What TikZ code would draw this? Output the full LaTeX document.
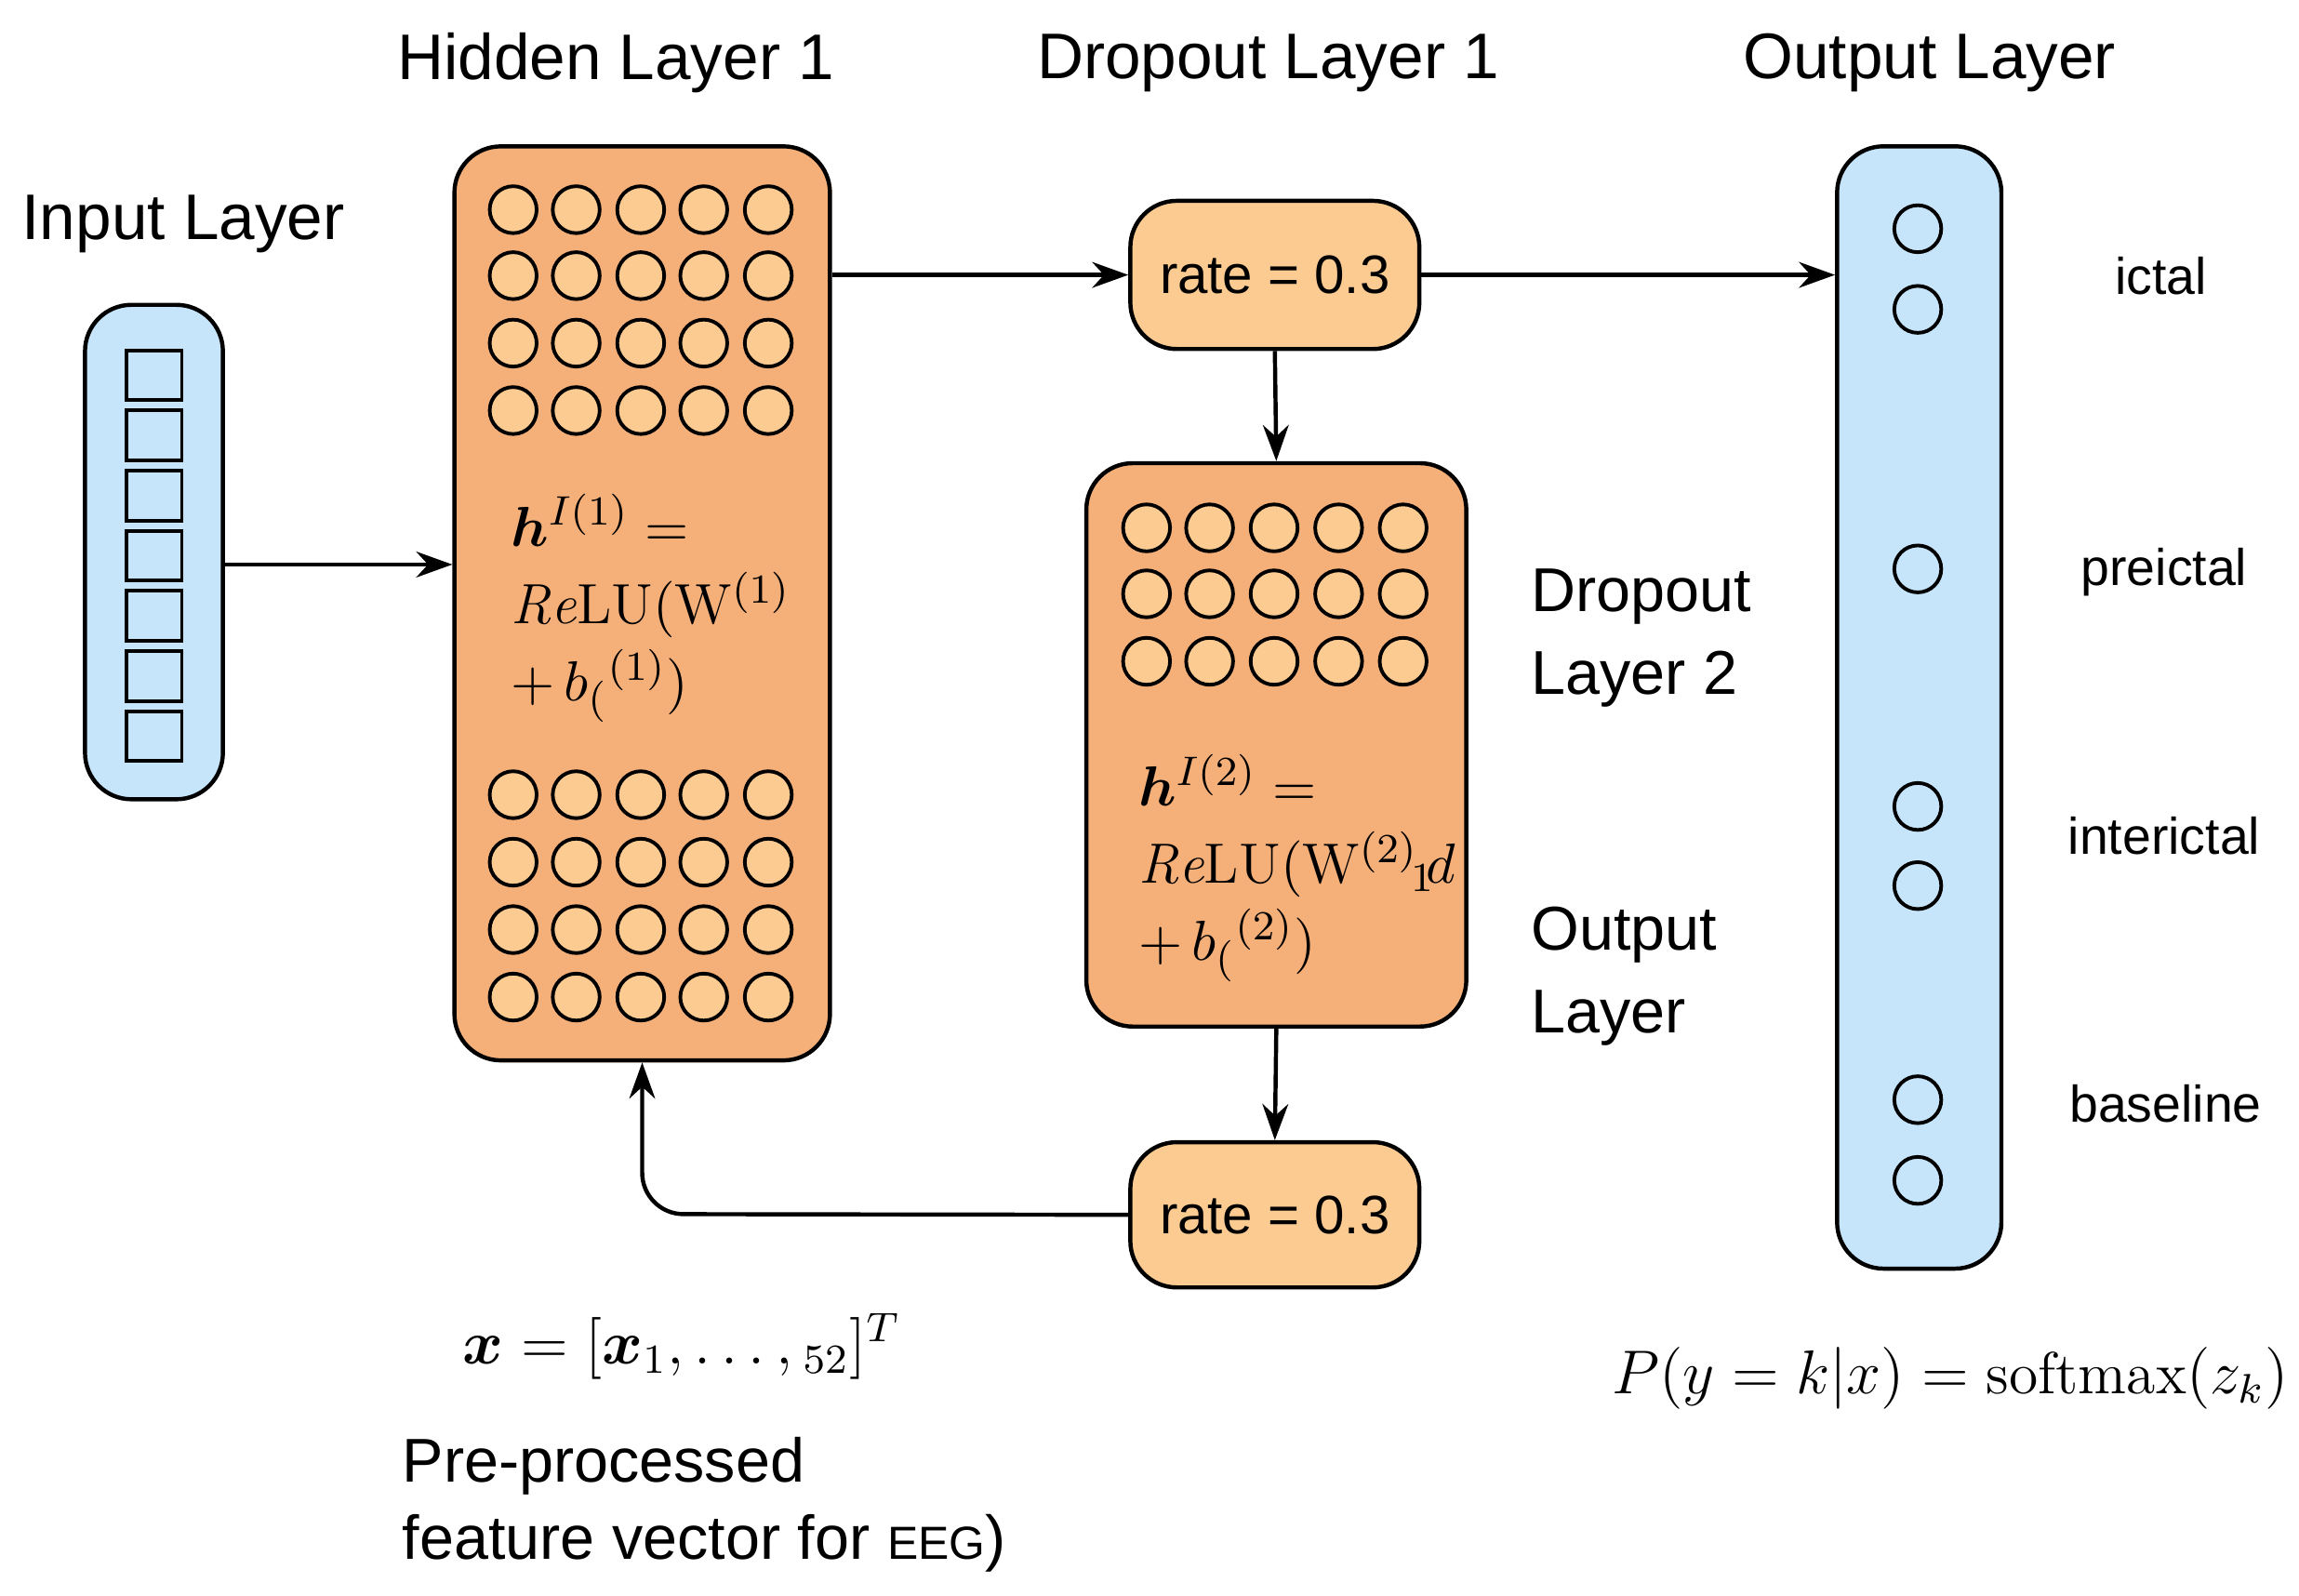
\documentclass[tikz,border=0pt]{standalone}
\usepackage{amsmath,bm}
\usepackage{fontspec}
\setsansfont{Liberation Sans}
\usetikzlibrary{arrows.meta}
\definecolor{lblue}{HTML}{C6E4FA}
\definecolor{orng}{HTML}{F5B07A}
\definecolor{lorng}{HTML}{FBCB92}
\tikzset{
 every node/.style={font=\sffamily},
 pane/.style={draw=black,line width=0.8pt,rounded corners=9pt,inner sep=0},
 neuron/.style={circle,draw=black,line width=0.7pt,fill=lorng,minimum size=0.32cm,inner sep=0},
 oneuron/.style={circle,draw=black,line width=0.7pt,fill=lblue,minimum size=0.32cm,inner sep=0},
 cell/.style={draw=black,line width=0.7pt,fill=lblue,minimum width=0.38cm,minimum height=0.34cm,inner sep=0},
 title/.style={font=\sffamily\fontsize{12.5}{14}\selectfont},
 lbl/.style={font=\sffamily\fontsize{10}{12}\selectfont},
 side/.style={font=\sffamily\fontsize{12}{16}\selectfont,align=left,anchor=west},
 fml/.style={font=\fontsize{11}{15}\selectfont,align=left,anchor=west},
 arr/.style={-{Stealth[length=7pt,width=5pt]},line width=0.8pt},
}
\begin{document}
\begin{tikzpicture}[x=0.01cm,y=-0.01cm]
\useasboundingbox (0,0) rectangle (1568,1088);
% input
\node[pane,fill=lblue,minimum width=0.94cm,minimum height=3.37cm] (in) at (105,376.5) {};
\foreach \i in {0,...,6} \node[cell] (c\i) at (105,256+\i*41) {};
\node[title] (tin) at (125,153) {Input Layer};
% hidden 1
\node[pane,fill=orng,minimum width=2.56cm,minimum height=6.23cm] (h1) at (438,411.5) {};
\foreach \x in {350,393,437,480,524}{
 \foreach \y in {143,188,234,280,542,588,634,680} \node[neuron] at (\x,\y) {};}
\node[fml] (f1) at (336,415) {$\bm{h}^{I(1)}=$\\$\mathit{Re}\mathrm{LU}(\mathrm{W}^{(1)}$\\$+\,b_{(}{}^{(1)})$};
\node[title] (t1) at (420,43) {Hidden Layer 1};
\node[title] (t2) at (865,43) {Dropout Layer 1};
\node[title] (t3) at (1316,43) {Output Layer};
% rate boxes
\node[pane,fill=lorng,minimum width=1.97cm,minimum height=1.01cm,font=\sffamily\fontsize{10.5}{13}\selectfont] (r1) at (869.5,187.5) {rate = 0.3};
\node[pane,fill=lorng,minimum width=1.97cm,minimum height=0.99cm,font=\sffamily\fontsize{10.5}{13}\selectfont] (r2) at (869.5,828.5) {rate = 0.3};
% hidden 2
\node[pane,fill=orng,minimum width=2.59cm,minimum height=3.84cm] (h2) at (870.5,508) {};
\foreach \x in {782,825,869,913,957}{
 \foreach \y in {360,405,451} \node[neuron] at (\x,\y) {};}
\node[fml] (f2) at (764,592) {$\bm{h}^{I(2)}=$\\$\mathit{Re}\mathrm{LU}(\mathrm{W}^{(2)}{}_{\!1}\!d$\\$+\,b_{(}{}^{(2)})$};
\node[side] (d2) at (1032,435) {Dropout\\Layer 2};
\node[side] (ol) at (1032,666) {Output\\Layer};
% output
\node[pane,fill=lblue,minimum width=1.12cm,minimum height=7.65cm] (out) at (1309,482.5) {};
\foreach \y in {156,211,388,550,604,750,805} \node[oneuron] at (1308,\y) {};
\node[lbl] (l1) at (1474,188) {ictal};
\node[lbl] (l2) at (1476,390) {preictal};
\node[lbl] (l3) at (1476,570) {interictal};
\node[lbl] (l4) at (1477,753) {baseline};
% arrows
\draw[arr] (in.east |- 0,385) -- (h1.west |- 0,385);
\draw[arr] (h1.east |- r1.west) -- (r1.west);
\draw[arr] (r1.east) -- (out.west |- r1.east);
\draw[arr] (r1.south) -- (h2.north);
\draw[arr] (h2.south) -- (r2.north);
\draw[arr,rounded corners=8pt] (r2.west) -- (438,828) -- (h1.south);
% bottom texts
\node[font=\fontsize{12}{14}\selectfont] (xv) at (465,918) {$\bm{x}=[\bm{x}_1,\ldots,{}_{52}]^{T}$};
\node[side,font=\sffamily\fontsize{12}{15}\selectfont] (pp) at (262,1026) {Pre-processed\\feature vector for {\small EEG})};
\node[font=\fontsize{11.5}{14}\selectfont] (sm) at (1330,940) {$P(y=k|x)=\mathrm{softmax}(z_{k})$};
\end{tikzpicture}
\end{document}
